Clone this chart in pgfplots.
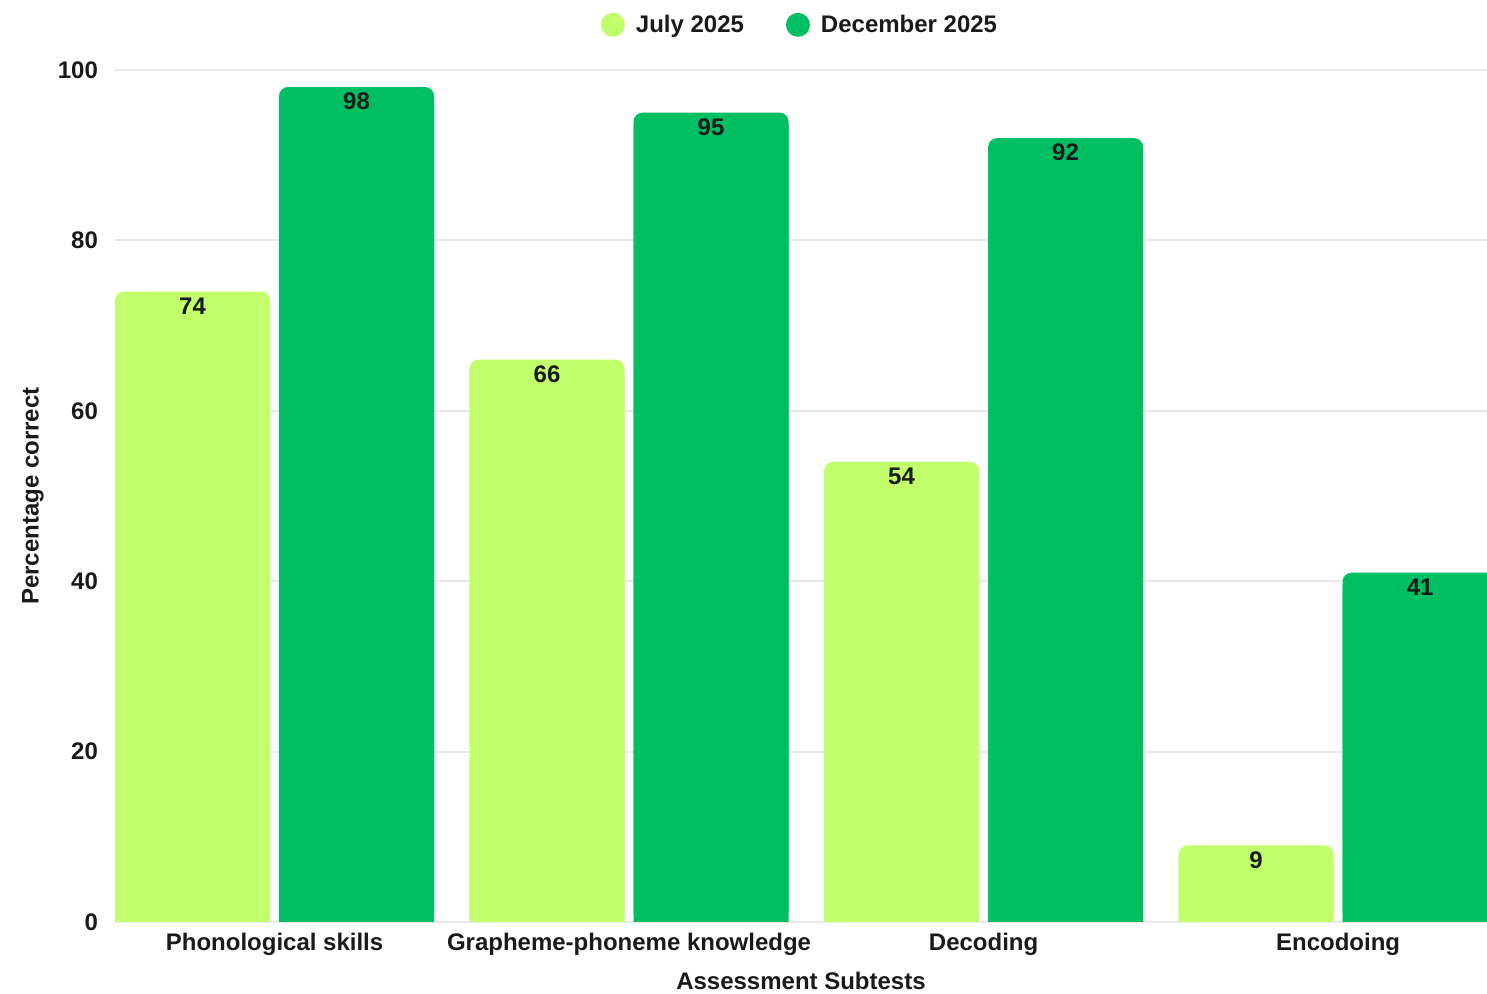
\documentclass[border=0pt]{standalone}
\usepackage{pgfplots}
\pgfplotsset{compat=1.18}
\usepackage{pgfplotstable}
\usepackage{fontspec}
\setmainfont{Liberation Sans}

\definecolor{julgreen}{HTML}{C0FF6B}
\definecolor{decgreen}{HTML}{00BF63}
\definecolor{ink}{HTML}{1A1A1A}
\definecolor{gridgray}{HTML}{E8E8E8}

% Percentage correct per subtest
\pgfplotstableread{
idx jul dec
0   74  98
1   66  95
2   54  92
3   9   41
}\scores

\begin{document}
\begin{tikzpicture}[font=\fontsize{12}{14}\selectfont\bfseries, text=ink]
\useasboundingbox (-57.5pt,-36pt) rectangle (686pt,461pt);
\begin{axis}[
  at={(0,0)}, anchor=south west,
  scale only axis, width=686pt, height=426pt,
  xmin=-0.45, xmax=3.42, ymin=0, ymax=100,
  ytick={0,20,...,100},
  xtick={0,1,2,3},
  xticklabels={Phonological skills, Grapheme-phoneme knowledge, Decoding, Encodoing},
  ymajorgrids, grid style={gridgray, line width=1pt},
  axis line style={draw=none}, major tick length=0pt,
  /pgf/number format/assume math mode=true,
  tick label style={font=\fontsize{12}{14}\selectfont\bfseries, text=ink},
  xticklabel style={yshift=-2pt},
  yticklabel style={xshift=-5pt},
  xlabel={Assessment Subtests},
  ylabel={Percentage correct},
  xlabel style={at={(axis description cs:0.5,-0.0692)}, anchor=center},
  ylabel style={at={(axis description cs:-0.0598,0.5)}, anchor=center, rotate=0},
  legend style={at={(axis description cs:0.5,1.053)}, anchor=center,
    draw=none, fill=none, legend columns=2,
    /tikz/every even column/.append style={column sep=19pt},
    font=\fontsize{12}{14}\selectfont\bfseries},
  legend cell align=left,
  legend image code/.code={%
    \fill[#1, draw=none] (6pt,0) circle (6pt);
    \path[draw=none, fill=none] (0,0) rectangle (15.5pt,0);},
  nodes near coords style={anchor=north, inner sep=0pt, yshift=-2.8pt,
    font=\fontsize{12}{14}\selectfont\bfseries, text=ink},
]
% square lower parts of the bars
\addplot[ybar, fill=julgreen, draw=none, bar width=77.5pt, bar shift=-41pt, forget plot]
  table[x=idx, y expr=\thisrow{jul}-1.5] {\scores};
\addplot[ybar, fill=decgreen, draw=none, bar width=77.5pt, bar shift=41pt, forget plot]
  table[x=idx, y expr=\thisrow{dec}-1.5] {\scores};
% bars with rounded tops and value labels
\addplot[ybar, fill=julgreen, draw=none, rounded corners=4.5pt, bar width=77.5pt,
  bar shift=-41pt, forget plot, nodes near coords,
  every node near coord/.append style={xshift=-41pt}]
  table[x=idx, y=jul] {\scores};
\addplot[ybar, fill=decgreen, draw=none, rounded corners=4.5pt, bar width=77.5pt,
  bar shift=41pt, forget plot, nodes near coords,
  every node near coord/.append style={xshift=41pt}]
  table[x=idx, y=dec] {\scores};
\addlegendimage{fill=julgreen}
\addlegendentry{July 2025}
\addlegendimage{fill=decgreen}
\addlegendentry{December 2025}
\end{axis}
\end{tikzpicture}
\end{document}
